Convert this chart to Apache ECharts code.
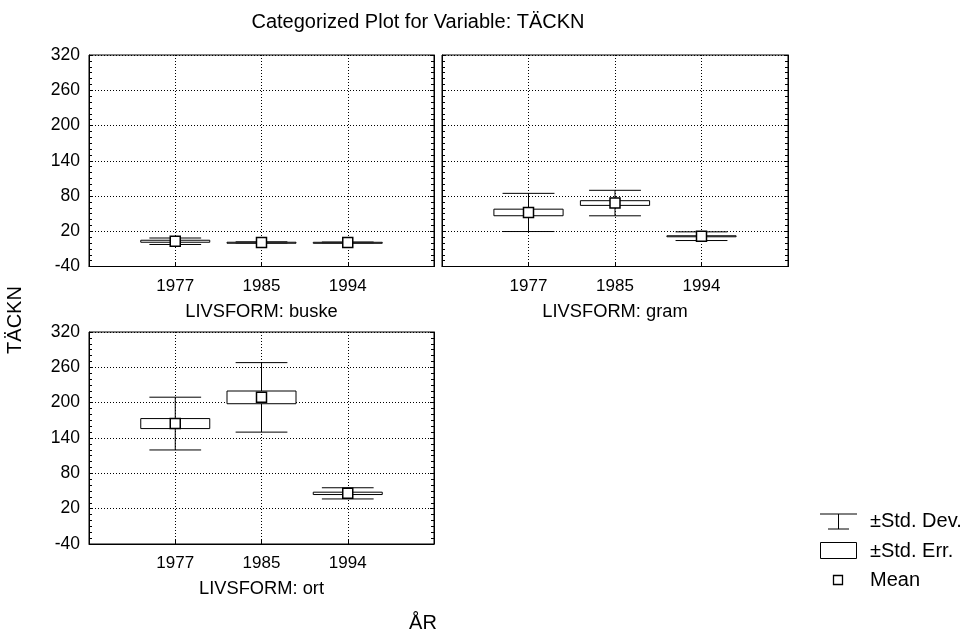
<!DOCTYPE html>
<html><head><meta charset="utf-8">
<script src="https://cdn.jsdelivr.net/npm/echarts@6/dist/echarts.min.js"></script>
<style>html,body{margin:0;padding:0;background:#fff}#c{width:964px;height:631px}</style>
</head><body><div id="c"></div><script>
// ---- data ----
const years = ['1977', '1985', '1994'];
const panelNames = ['LIVSFORM: buske', 'LIVSFORM: gram', 'LIVSFORM: ort'];
const yMin = -40, yMax = 320, yStep = 60;
const buskeMean = [3, 1, 1];
const buskeSD = [5.5, 1, 0.6];
const buskeSE = [1.7, 0.3, 0.2];
const gramMean = [52, 68, 11.6];
const gramSD = [32.5, 21.7, 7.4];
const gramSE = [5.6, 4, 0.7];
const ortMean = [164.5, 209, 46];
const ortSD = [44.8, 59, 9.5];
const ortSE = [8.5, 10.8, 2];
const legendLabels = ['±Std. Dev.', '±Std. Err.', 'Mean'];
const titleText = 'Categorized Plot for Variable: TÄCKN';
const xTitle = 'ÅR';
const yTitle = 'TÄCKN';

// ---- chart ----
const FONT = '"Liberation Sans", Arial, sans-serif';
const chart = echarts.init(document.getElementById('c'), null, {renderer: 'canvas'});
const grids = [
  {left: 89, top: 55, width: 345, height: 211.5},
  {left: 442, top: 55, width: 346, height: 211.5},
  {left: 89, top: 332, width: 345, height: 212}
];
const showYLabels = [true, false, true];
const dotted = {color: '#000', width: 1, type: [1, 2]};
const xAxes = [], yAxes = [];
grids.forEach((g, i) => {
  g.show = true; g.borderColor = '#000'; g.borderWidth = 1; g.backgroundColor = '#fff';
  xAxes.push({
    type: 'value', gridIndex: i, min: 0, max: 4, interval: 1,
    axisLine: {show: true, onZero: false, lineStyle: {color: '#000', width: 1}},
    axisTick: {show: true, inside: true, length: 4, lineStyle: {color: '#000'}},
    axisLabel: {margin: 11, fontSize: 17, color: '#000', fontFamily: FONT,
      formatter: v => (v >= 1 && v <= years.length) ? years[v - 1] : ''},
    splitLine: {show: true, lineStyle: dotted},
    name: panelNames[i], nameLocation: 'middle', nameGap: 36,
    nameTextStyle: {fontSize: 18.3, color: '#000', fontFamily: FONT}
  });
  yAxes.push({
    type: 'value', gridIndex: i, min: yMin, max: yMax, interval: yStep, position: 'left',
    axisLine: {show: true, onZero: false, lineStyle: {color: '#000', width: 1}},
    axisTick: {show: true, inside: true, length: 4, lineStyle: {color: '#000'}},
    minorTick: {show: true, splitNumber: 6, length: 3, lineStyle: {color: '#000'}},
    axisLabel: {show: showYLabels[i], margin: 9, fontSize: 17.5, color: '#000', fontFamily: FONT},
    splitLine: {show: true, lineStyle: dotted}
  });
});
grids.forEach((g, i) => {
  yAxes.push({
    type: 'value', gridIndex: i, min: yMin, max: yMax, interval: yStep, position: 'right',
    axisLine: {show: true, onZero: false, lineStyle: {color: '#000', width: 1}},
    axisTick: {show: true, inside: true, length: 4, lineStyle: {color: '#000'}},
    minorTick: {show: true, splitNumber: 6, length: 3, lineStyle: {color: '#000'}},
    axisLabel: {show: false}, splitLine: {show: false}
  });
});

function makeSeries(gi, mean, sd, se) {
  const data = years.map((y, i) => [i + 1, mean[i], sd[i], se[i]]);
  return {
    type: 'custom', xAxisIndex: gi, yAxisIndex: gi, data: data,
    encode: {x: 0, y: 1}, z: 5, silent: true,
    renderItem(params, api) {
      const x = api.value(0), m = api.value(1), s = api.value(2), e = api.value(3);
      const band = api.size([1, 0])[0];
      const c = api.coord([x, m]);
      const top = api.coord([x, m + s])[1], bot = api.coord([x, m - s])[1];
      const et = api.coord([x, m + e])[1], eb = api.coord([x, m - e])[1];
      const capW = band * 0.6, boxW = band * 0.8;
      const ls = {stroke: '#000', lineWidth: 1, fill: null};
      return {type: 'group', children: [
        {type: 'line', shape: {x1: c[0], y1: top, x2: c[0], y2: bot}, style: ls},
        {type: 'line', shape: {x1: c[0] - capW / 2, y1: top, x2: c[0] + capW / 2, y2: top}, style: ls},
        {type: 'line', shape: {x1: c[0] - capW / 2, y1: bot, x2: c[0] + capW / 2, y2: bot}, style: ls},
        {type: 'rect', shape: {x: c[0] - boxW / 2, y: et, width: boxW, height: Math.max(eb - et, 1)},
          style: {fill: '#fff', stroke: '#000', lineWidth: 1}},
        {type: 'rect', shape: {x: c[0] - 5, y: c[1] - 5, width: 10, height: 10},
          style: {fill: '#fff', stroke: '#000', lineWidth: 1.5}}
      ]};
    }
  };
}

const txt = {fill: '#000', fontFamily: FONT};
const graphics = [
  {type: 'text', x: 418, y: 22, style: Object.assign({text: titleText, fontSize: 20, align: 'center', verticalAlign: 'middle'}, txt)},
  {type: 'text', x: 423, y: 623, style: Object.assign({text: xTitle, fontSize: 20, align: 'center', verticalAlign: 'middle'}, txt)},
  {type: 'text', x: 15, y: 320, rotation: Math.PI / 2, style: Object.assign({text: yTitle, fontSize: 20, align: 'center', verticalAlign: 'middle'}, txt)},
  // legend
  {type: 'line', shape: {x1: 820, y1: 514, x2: 857, y2: 514}, style: {stroke: '#000', lineWidth: 1}},
  {type: 'line', shape: {x1: 838.5, y1: 514, x2: 838.5, y2: 529}, style: {stroke: '#000', lineWidth: 1}},
  {type: 'line', shape: {x1: 828, y1: 529, x2: 849, y2: 529}, style: {stroke: '#000', lineWidth: 1}},
  {type: 'text', x: 870, y: 521.5, style: Object.assign({text: legendLabels[0], fontSize: 20, verticalAlign: 'middle'}, txt)},
  {type: 'rect', shape: {x: 820.5, y: 542.5, width: 36, height: 16}, style: {fill: '#fff', stroke: '#000', lineWidth: 1}},
  {type: 'text', x: 870, y: 551, style: Object.assign({text: legendLabels[1], fontSize: 20, verticalAlign: 'middle'}, txt)},
  {type: 'rect', shape: {x: 833.5, y: 575.5, width: 9, height: 9}, style: {fill: '#fff', stroke: '#000', lineWidth: 1.3}},
  {type: 'text', x: 870, y: 580, style: Object.assign({text: legendLabels[2], fontSize: 20, verticalAlign: 'middle'}, txt)}
];

chart.setOption({
  animation: false,
  backgroundColor: '#fff',
  grid: grids,
  xAxis: xAxes,
  yAxis: yAxes,
  series: [
    makeSeries(0, buskeMean, buskeSD, buskeSE),
    makeSeries(1, gramMean, gramSD, gramSE),
    makeSeries(2, ortMean, ortSD, ortSE)
  ],
  graphic: graphics
});
</script></body></html>
